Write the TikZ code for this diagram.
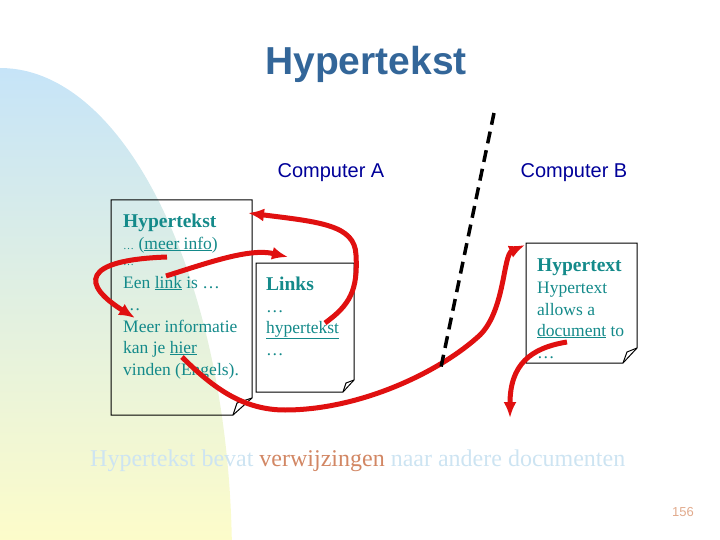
\documentclass[tikz,border=0pt]{standalone}
\usepackage{fontspec}
\setmainfont{Liberation Serif}
\newfontfamily\arialfont{Liberation Sans}
\usetikzlibrary{arrows.meta}
\definecolor{titleblue}{RGB}{51,102,153}
\definecolor{pcblue}{RGB}{0,0,153}
\definecolor{docteal}{RGB}{20,138,138}
\definecolor{linkred}{RGB}{224,16,16}
\definecolor{bgblue}{RGB}{198,228,248}
\definecolor{bgyellow}{RGB}{255,253,200}
\definecolor{paleblue}{RGB}{205,228,242}
\definecolor{refbrown}{RGB}{210,135,100}
\definecolor{pagenum}{RGB}{225,170,140}

\begin{document}
\begin{tikzpicture}[x=1pt,y=-1pt,
	doctext/.style={anchor=base west,inner sep=0,text=docteal,font=\fontsize{17.5}{20}\selectfont},
	dochead/.style={doctext,font=\fontsize{19.5}{22}\selectfont\bfseries},
	page/.style={draw=black,line width=1pt},
	link/.style={draw=linkred,line width=5pt,-{Latex[length=16pt,width=13pt]}},
	pc/.style={anchor=base,inner sep=0,text=pcblue,font=\arialfont\fontsize{20}{24}\selectfont}]
	\useasboundingbox (0,0) rectangle (720,540);
	% background
	\begin{scope}
		\clip (0,0) rectangle (720,540);
		\shade[top color=bgblue,bottom color=bgyellow] (0,560) -- (0,68) arc[start angle=-90,end angle=0,x radius=232,y radius=492] -- cycle;
	\end{scope}
	\node[anchor=base,inner sep=0,text=titleblue,font=\arialfont\fontsize{39}{44}\selectfont\bfseries] (title) at (366,75) {Hypertekst};
	\node[pc] (pcA) at (331,178) {Computer A};
	\node[pc] (pcB) at (574,178) {Computer B};
	% pages
	\draw[page] (111,200) -- (252,200) -- (252,398) -- (233,415) -- (111,415) -- cycle;
	\draw[page] (233,415) -- (237,403) -- (252,398);
	\draw[page] (256,263) -- (354,263) -- (354,380) -- (343,392) -- (256,392) -- cycle;
	\draw[page] (343,392) -- (346,383) -- (354,380);
	\draw[page] (526,243) -- (637,243) -- (637,348) -- (623,363) -- (526,363) -- cycle;
	\draw[page] (623,363) -- (627,352) -- (637,348);
	% computer A, page 1
	\node[dochead] (aHead) at (123,228) {Hypertekst};
	\node[doctext] (aMeer) at (123,249) {{\fontsize{11}{13}\selectfont …}~(\underline{meer info})};
	\node[doctext,font=\fontsize{11}{13}\selectfont] (aDots) at (123,265) {…};
	\node[doctext] (aLink) at (123,288) {Een \underline{link} is …};
	\node[doctext] (aDotsB) at (123,310) {…};
	\node[doctext] (aInfo) at (123,332) {Meer informatie};
	\node[doctext] (aKan) at (123,353) {kan je \underline{hier}};
	\node[doctext] (aVinden) at (123,375) {vinden (Engels).};
	% computer A, page 2
	\node[dochead] (bHead) at (266,290) {Links};
	\node[doctext] (bDots) at (266,312) {…};
	\node[doctext] (bHyper) at (266,333) {\underline{hypertekst}};
	\node[doctext] (bDotsB) at (266,355) {…};
	% computer B
	\node[dochead] (cHead) at (537,271) {Hypertext};
	\node[doctext] (cHyper) at (537,293) {Hypertext};
	\node[doctext] (cAllows) at (537,315) {allows a};
	\node[doctext] (cDoc) at (537,336) {\underline{document} to};
	\node[doctext] (cDots) at (537,358) {…};
	% link ends
	\coordinate (meerA) at (167,257);
	\coordinate (meerB) at (135,318);
	\coordinate (linkA) at (166,276);
	\coordinate (linkB) at (288,257);
	\coordinate (hyperA) at (325,323);
	\coordinate (hyperB) at (248,213);
	\coordinate (hierA) at (182,357);
	\coordinate (hierB) at (525,245);
	\coordinate (docA) at (567,342);
	\coordinate (docB) at (510,418);
	\draw[link] (meerA) .. controls (80,260) and (82,285) .. (meerB);
	\draw[link] (linkA) .. controls (210,262) and (250,248) .. (linkB);
	\draw[link] (hyperA) .. controls (350,305) and (358,290) .. (356,255) .. controls (355,225) and (320,222) .. (hyperB);
	\draw[link] (hierA) .. controls (215,390) and (245,410) .. (285,410) .. controls (360,410) and (440,372) .. (480,335) .. controls (505,310) and (503,255) .. (hierB);
	\draw[link] (docA) .. controls (530,348) and (510,365) .. (docB);
	% network cut
	\coordinate (cutTop) at (494,113);
	\coordinate (cutBot) at (440,372);
	\draw[line width=3.5pt,dash pattern=on 12pt off 7pt] (cutTop) -- (cutBot);
	\node[anchor=base west,inner sep=0,text=paleblue,font=\fontsize{24}{28}\selectfont] (summary) at (90,466) {Hypertekst bevat \textcolor{refbrown}{verwijzingen} naar andere documenten};
	\node[anchor=base,inner sep=0,text=pagenum,font=\arialfont\fontsize{13}{15}\selectfont] (pageno) at (683,516) {156};
\end{tikzpicture}
\end{document}
